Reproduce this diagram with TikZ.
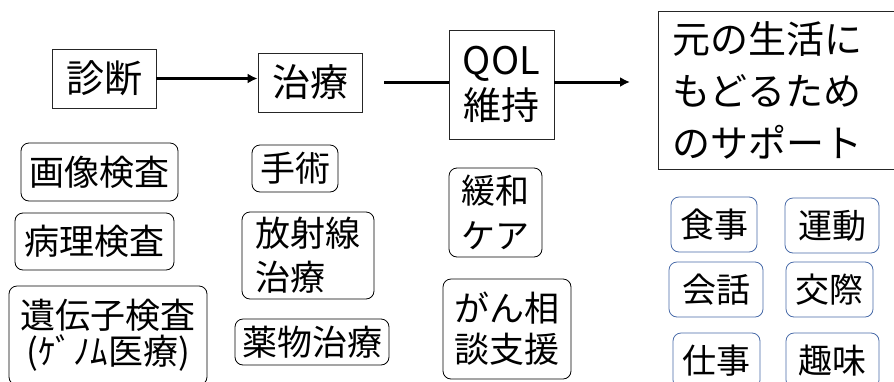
\documentclass[tikz,border=0pt]{standalone}
\usepackage{fontspec}
\newfontfamily\jpfont{Noto Sans CJK JP}
\usepackage{tikz}
\usetikzlibrary{arrows.meta,positioning,calc}
\tikzset{>={Latex[length=10pt,width=10pt]}}
\definecolor{boxblue}{RGB}{72,106,168}
\tikzset{
  mainbox/.style={draw=black!85,line width=0.8pt,inner sep=0pt,align=center,
    font=\jpfont\fontsize{38}{45}\selectfont},
  subbox/.style={draw=black,rounded corners=8pt,line width=0.8pt,inner sep=0pt,align=left,
    font=\jpfont\fontsize{35}{41}\selectfont},
  lifebox/.style={subbox,draw=boxblue,align=center,font=\jpfont\fontsize{34}{40}\selectfont},
  flow/.style={line width=3pt},
}
\begin{document}
\begin{tikzpicture}[x=1pt,y=-1pt]
\useasboundingbox (0,0) rectangle (894,381);
\clip (0,0) rectangle (894,381);

% main flow
\node[mainbox,minimum width=104pt,minimum height=59pt] (diag) at (104,78.5) {診断};
\node[mainbox,minimum width=104pt,minimum height=59pt] (treat) at (310,82.5) {治療};
\node[mainbox,minimum width=105pt,minimum height=109pt] (qol) at (501.5,84.5) {QOL\\維持};
\node[mainbox,anchor=west,text width=232pt,inner xsep=14pt,align=left,minimum height=158pt,
  font=\jpfont\fontsize{38}{52}\selectfont] (life) at (658,90) {元の生活に\\もどるため\\のサポート};

\coordinate (gapA) at (384,82);
\coordinate (tipB) at (630,82);
\draw[flow,->] (diag.east) -- (diag.east -| treat.west);
\draw[flow] (gapA) -- (gapA -| qol.west);
\draw[flow,->] (tipB -| qol.east) -- (tipB);

% diagnosis
\node[subbox,align=center,minimum width=157pt,minimum height=58pt] (img) at (99.5,172) {画像検査};
\node[subbox,align=center,minimum width=159pt,minimum height=57pt] (patho) at (94.5,241.5) {病理検査};
\node[subbox,align=center,minimum width=198pt,minimum height=99pt,
  font=\jpfont\fontsize{35}{36}\selectfont] (gene) at (108,335.5) {遺伝子検査\\(ｹﾞﾉﾑ医療)};

% treatment
\node[subbox,align=center,minimum width=86pt,minimum height=47pt] (surg) at (295,168.5) {手術};
\node[subbox,minimum width=132pt,minimum height=87pt,
  font=\jpfont\fontsize{35}{44}\selectfont] (radio) at (308,255.5) {放射線\\治療};
\node[subbox,align=center,minimum width=154pt,minimum height=46pt] (drug) at (312,342) {薬物治療};

% QOL
\node[subbox,minimum width=93pt,minimum height=89pt,
  font=\jpfont\fontsize{34}{45}\selectfont] (palli) at (495.5,212.5) {緩和\\ケア};
\node[subbox,minimum width=128pt,minimum height=100pt] (consult) at (507,329) {がん相\\談支援};

% daily life
\node[lifebox,minimum width=86pt,minimum height=55pt] (food) at (714,224.5) {食事};
\node[lifebox,minimum width=94pt,minimum height=55pt] (sport) at (832,225.5) {運動};
\node[lifebox,minimum width=94pt,minimum height=55pt] (talk) at (716,289.5) {会話};
\node[lifebox,minimum width=87pt,minimum height=55pt] (social) at (829.5,289.5) {交際};
\node[lifebox,minimum width=87pt,minimum height=55pt] (work) at (716.5,360.5) {仕事};
\node[lifebox,minimum width=93pt,minimum height=55pt] (hobby) at (832.5,360.5) {趣味};
\end{tikzpicture}
\end{document}
